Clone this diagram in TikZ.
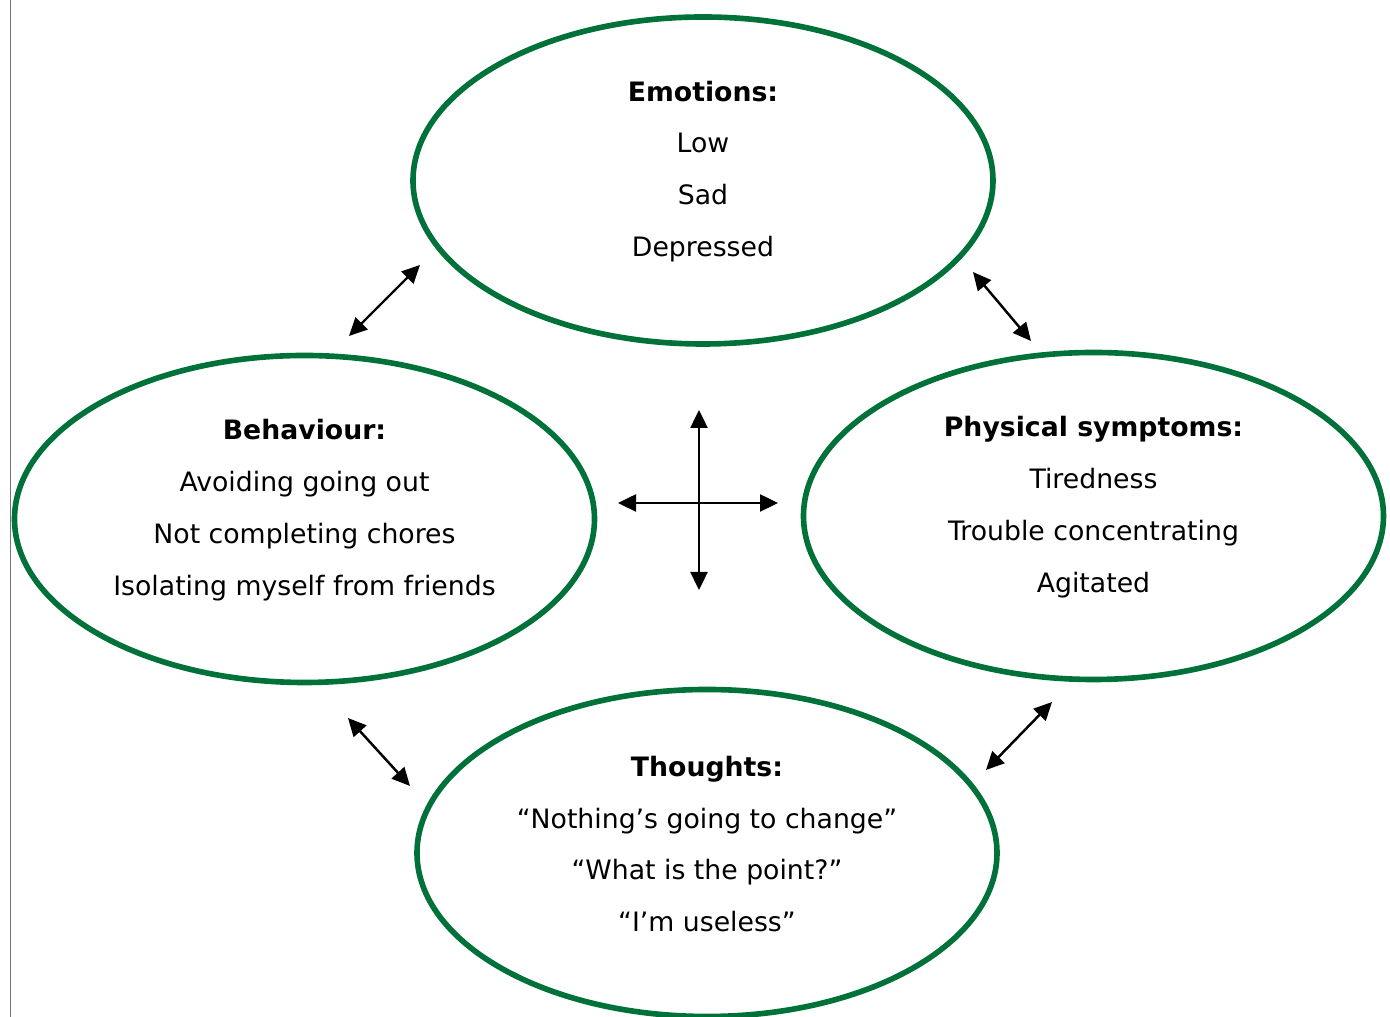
\documentclass[tikz,border=0pt]{standalone}
\usepackage{fontspec}
\setmainfont{DejaVu Sans}
\usetikzlibrary{shapes.geometric,arrows.meta}
\definecolor{ringgreen}{RGB}{0,113,57}
\tikzset{
  ring/.style={ellipse,draw=ringgreen,line width=1.6pt,minimum width=5.8cm,minimum height=3.27cm,inner sep=0pt},
  ringtext/.style={align=center,font=\fontsize{7.6}{14.75}\selectfont},
  twoway/.style={{Triangle[length=1.8mm,width=1.7mm]}-{Triangle[length=1.8mm,width=1.7mm]},line width=0.7pt}
}

\begin{document}
\begin{tikzpicture}
\useasboundingbox(0,0)rectangle(13.9,-10.17);
\draw[gray!90!black,line width=0.45pt](0.105,0)--(0.105,-10.17);
%
\node[ring](emo)at(7.03,-1.805){};
\node[ring](beh)at(3.045,-5.19){};
\node[ring](phy)at(10.935,-5.16){};
\node[ring](tho)at(7.07,-8.53){};

\node[ringtext](emotxt)at([yshift=0.9mm]emo.center){\textbf{Emotions:}\\Low\\Sad\\Depressed};
\node[ringtext](behtxt)at([yshift=0.9mm]beh.center){\textbf{Behaviour:}\\Avoiding going out\\Not completing chores\\Isolating myself from friends};
\node[ringtext](phytxt)at([yshift=0.9mm]phy.center){\textbf{Physical symptoms:}\\Tiredness\\Trouble concentrating\\Agitated};
\node[ringtext](thotxt)at([yshift=0.9mm]tho.center){\textbf{Thoughts:}\\“Nothing’s going to change”\\“What is the point?”\\“I’m useless”};
%
\coordinate(tla)at(4.20,-2.65);
\coordinate(tlb)at(3.49,-3.36);
\coordinate(tra)at(9.73,-2.72);
\coordinate(trb)at(10.31,-3.41);
\coordinate(bla)at(3.48,-7.18);
\coordinate(blb)at(4.10,-7.86);
\coordinate(bra)at(10.52,-7.02);
\coordinate(brb)at(9.86,-7.70);
\coordinate(up)at(6.99,-4.10);
\coordinate(down)at(6.99,-5.90);
\coordinate(left)at(6.18,-5.03);
\coordinate(right)at(7.78,-5.03);

\draw[twoway](tla)--(tlb);
\draw[twoway](tra)--(trb);
\draw[twoway](bla)--(blb);
\draw[twoway](bra)--(brb);
\draw[twoway](up)--(down);
\draw[twoway](left)--(right);
\end{tikzpicture}
\end{document}
